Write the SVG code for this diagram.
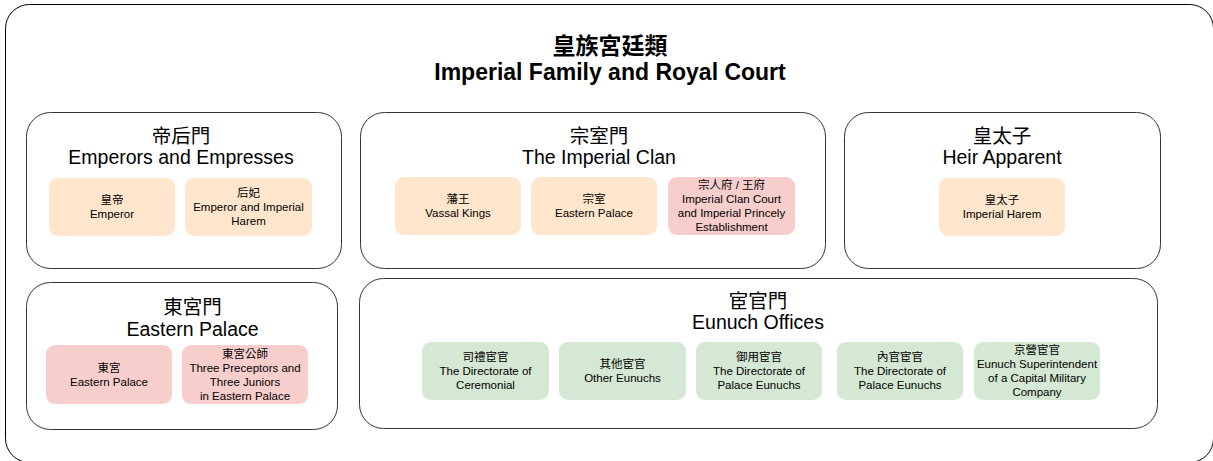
<svg xmlns="http://www.w3.org/2000/svg" width="1213" height="461" viewBox="0 0 1213 461">
<style>
text{font-family:"Liberation Sans","Noto Sans CJK TC",Arial,sans-serif;fill:#000;text-anchor:middle}
.title{font-weight:bold;font-size:23px}
.ptitle{font-size:19.5px}
.item{font-size:11.5px}
.panel{fill:#fff;stroke:#333;stroke-width:1}
.box{stroke:none}
.peach{fill:#ffe6cc}
.pink{fill:#f8cecc}
.green{fill:#d5e8d4}
</style>
<rect x="5.5" y="4.5" width="1208" height="458" rx="24" fill="#fff" stroke="#000" stroke-width="1"/>
<g id="title">
<text class="title" x="610" y="54">皇族宮廷類</text>
<text class="title" x="610" y="80">Imperial Family and Royal Court</text>
</g>
<g id="connectors"></g>

<g id="panel-emperors">
<rect class="panel" x="26.5" y="112.5" width="315" height="156" rx="24"/>
<text class="ptitle" x="181" y="143">帝后門</text>
<text class="ptitle" x="181" y="164">Emperors and Empresses</text>
</g>
<g id="node-emperor">
<rect class="box peach" x="49" y="178" width="126" height="58" rx="9"/>
<text class="item" x="112" y="204">皇帝<tspan x="112" dy="14">Emperor</tspan></text>
</g>
<g id="node-consort">
<rect class="box peach" x="185" y="178" width="127" height="58" rx="9"/>
<text class="item" x="248.5" y="197">后妃<tspan x="248.5" dy="14">Emperor and Imperial</tspan><tspan x="248.5" dy="14">Harem</tspan></text>
</g>

<g id="panel-clan">
<rect class="panel" x="360.5" y="112.5" width="465" height="156" rx="24"/>
<text class="ptitle" x="599" y="143">宗室門</text>
<text class="ptitle" x="599" y="164">The Imperial Clan</text>
</g>
<g id="node-vassal">
<rect class="box peach" x="395" y="177" width="126" height="58" rx="9"/>
<text class="item" x="458" y="203">藩王<tspan x="458" dy="14">Vassal Kings</tspan></text>
</g>
<g id="node-zongshi">
<rect class="box peach" x="531" y="177" width="126" height="58" rx="9"/>
<text class="item" x="594" y="203">宗室<tspan x="594" dy="14">Eastern Palace</tspan></text>
</g>
<g id="node-zongrenfu">
<rect class="box pink" x="668" y="177" width="127" height="58" rx="9"/>
<text class="item" x="731.5" y="189">宗人府 / 王府<tspan x="731.5" dy="14">Imperial Clan Court</tspan><tspan x="731.5" dy="14">and Imperial Princely</tspan><tspan x="731.5" dy="14">Establishment</tspan></text>
</g>

<g id="panel-heir">
<rect class="panel" x="844.5" y="112.5" width="316" height="156" rx="24"/>
<text class="ptitle" x="1002" y="143">皇太子</text>
<text class="ptitle" x="1002" y="164">Heir Apparent</text>
</g>
<g id="node-heir">
<rect class="box peach" x="939" y="178" width="126" height="58" rx="9"/>
<text class="item" x="1002" y="204">皇太子<tspan x="1002" dy="14">Imperial Harem</tspan></text>
</g>

<g id="panel-eastern">
<rect class="panel" x="26.5" y="282.5" width="311" height="147" rx="24"/>
<text class="ptitle" x="192.5" y="314">東宮門</text>
<text class="ptitle" x="192.5" y="336">Eastern Palace</text>
</g>
<g id="node-donggong">
<rect class="box pink" x="46" y="345" width="126" height="59" rx="9"/>
<text class="item" x="109" y="371.5">東宮<tspan x="109" dy="14">Eastern Palace</tspan></text>
</g>
<g id="node-preceptors">
<rect class="box pink" x="182" y="345" width="126" height="59" rx="9"/>
<text class="item" x="245" y="357.5">東宮公師<tspan x="245" dy="14">Three Preceptors and</tspan><tspan x="245" dy="14">Three Juniors</tspan><tspan x="245" dy="14">in Eastern Palace</tspan></text>
</g>

<g id="panel-eunuch">
<rect class="panel" x="359.5" y="278.5" width="798" height="150" rx="24"/>
<text class="ptitle" x="758" y="308">宦官門</text>
<text class="ptitle" x="758" y="329">Eunuch Offices</text>
</g>
<g id="node-sili">
<rect class="box green" x="422" y="342" width="127" height="58" rx="9"/>
<text class="item" x="485.5" y="361">司禮宦官<tspan x="485.5" dy="14">The Directorate of</tspan><tspan x="485.5" dy="14">Ceremonial</tspan></text>
</g>
<g id="node-other">
<rect class="box green" x="559" y="342" width="127" height="58" rx="9"/>
<text class="item" x="622.5" y="368">其他宦官<tspan x="622.5" dy="14">Other Eunuchs</tspan></text>
</g>
<g id="node-yuyong">
<rect class="box green" x="696" y="342" width="126" height="58" rx="9"/>
<text class="item" x="759" y="361">御用宦官<tspan x="759" dy="14">The Directorate of</tspan><tspan x="759" dy="14">Palace Eunuchs</tspan></text>
</g>
<g id="node-neiguan">
<rect class="box green" x="837" y="342" width="126" height="58" rx="9"/>
<text class="item" x="900" y="361">內官宦官<tspan x="900" dy="14">The Directorate of</tspan><tspan x="900" dy="14">Palace Eunuchs</tspan></text>
</g>
<g id="node-jingying">
<rect class="box green" x="974" y="342" width="126" height="58" rx="9"/>
<text class="item" x="1037" y="354">京營宦官<tspan x="1037" dy="14">Eunuch Superintendent</tspan><tspan x="1037" dy="14">of a Capital Military</tspan><tspan x="1037" dy="14">Company</tspan></text>
</g>
</svg>
